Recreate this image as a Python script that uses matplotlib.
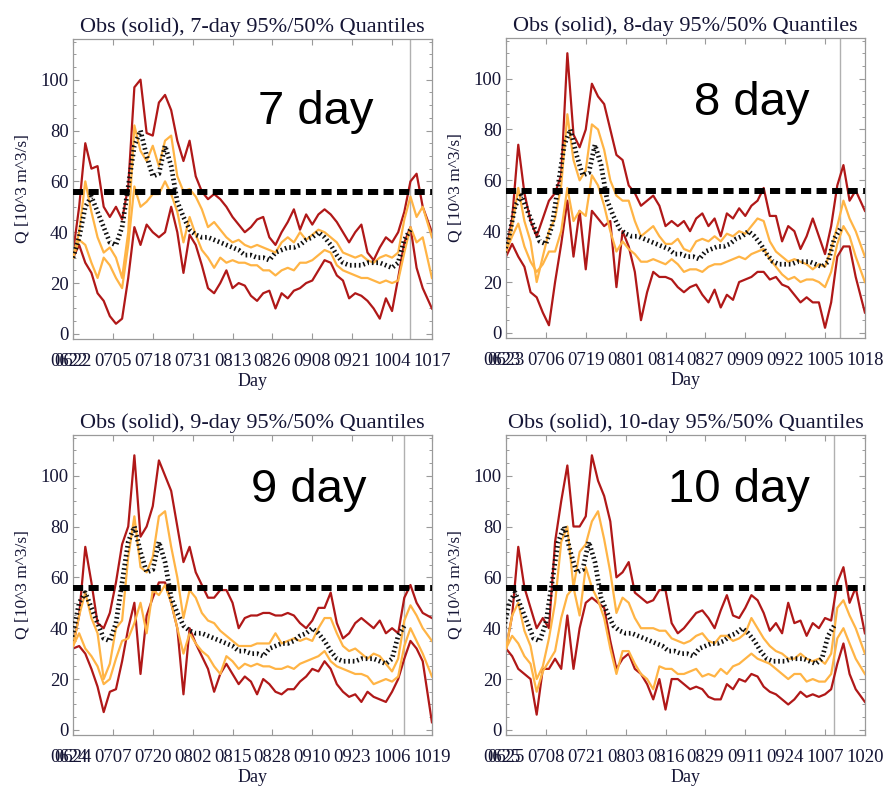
import numpy as np
import matplotlib
matplotlib.use("Agg")
import matplotlib.pyplot as plt
import matplotlib.transforms as mtransforms
from datetime import date, timedelta

# forecast quantiles sampled every 2 days (last sample sits on the right edge)
days = np.r_[np.arange(0, 116, 2), 117]

# observed flow, every 2 days counted from 06/22, up to the last obs date (10/10)
obs_days = np.arange(0, 111, 2)
obs = [30, 38, 50, 54, 48, 42, 36, 35, 42, 58,
       74, 80, 70, 62, 63, 74, 66, 52, 46, 41,
       39, 38, 38, 37, 36, 35, 34, 33, 31, 31,
       30, 30, 29, 32, 33, 34, 34, 35, 37, 38,
       40, 38, 35, 31, 28, 27, 27, 27, 28, 28,
       28, 27, 26, 28, 37, 41]
last_obs_day = 110
flood_level = 56

# 7-day lead
up95_7 = [32, 50, 75, 65, 66, 50, 46, 50, 45, 58,
          97, 100, 79, 78, 91, 94, 88, 76, 68, 76,
          62, 56, 53, 55, 53, 50, 46, 43, 40, 42,
          45, 46, 38, 35, 40, 44, 49, 41, 47, 43,
          47, 49, 47, 44, 40, 36, 40, 43, 32, 29,
          34, 38, 36, 40, 48, 60, 63, 50, 40]
lo95_7 = [30, 35, 28, 24, 16, 13, 7, 4, 6, 22,
          42, 35, 43, 40, 38, 40, 50, 40, 24, 39,
          35, 27, 18, 16, 20, 25, 18, 20, 19, 15,
          13, 16, 17, 10, 16, 14, 17, 18, 20, 21,
          25, 29, 28, 23, 21, 14, 16, 15, 13, 10,
          6, 14, 9, 22, 36, 42, 26, 18, 10]
up50_7 = [30, 40, 60, 48, 38, 32, 34, 30, 22, 40,
          82, 72, 68, 74, 66, 76, 78, 62, 56, 57,
          54, 49, 42, 44, 41, 38, 36, 37, 35, 34,
          35, 34, 33, 32, 36, 38, 36, 40, 37, 39,
          41, 40, 38, 36, 32, 31, 30, 31, 29, 28,
          30, 31, 30, 32, 45, 54, 46, 50, 38]
lo50_7 = [30, 37, 35, 28, 22, 30, 27, 22, 18, 35,
          58, 50, 52, 55, 55, 60, 55, 48, 36, 46,
          39, 33, 30, 26, 30, 28, 29, 28, 28, 27,
          27, 25, 25, 23, 25, 26, 25, 28, 28, 29,
          31, 33, 32, 27, 25, 24, 23, 22, 22, 21,
          20, 21, 20, 21, 32, 42, 36, 38, 22]

# 8-day lead
up95_8 = [32, 45, 74, 55, 44, 38, 45, 52, 55, 62,
          110, 78, 73, 80, 98, 93, 90, 80, 70, 68,
          58, 55, 50, 52, 54, 50, 42, 44, 42, 44,
          40, 45, 47, 42, 45, 38, 47, 45, 49, 46,
          50, 52, 57, 46, 46, 36, 42, 40, 33, 38,
          45, 38, 31, 42, 58, 66, 52, 56, 48]
lo95_8 = [30, 35, 30, 26, 16, 14, 8, 3, 20, 35,
          52, 30, 48, 25, 48, 45, 42, 44, 18, 40,
          34, 24, 5, 16, 24, 22, 22, 21, 18, 16,
          18, 19, 15, 12, 17, 10, 15, 13, 20, 21,
          22, 24, 24, 21, 22, 19, 18, 15, 12, 14,
          12, 12, 2, 12, 30, 34, 34, 22, 8]
up50_8 = [32, 42, 57, 44, 36, 20, 30, 40, 45, 58,
          86, 68, 60, 64, 82, 80, 72, 60, 54, 52,
          52, 44, 38, 40, 42, 38, 35, 35, 37, 33,
          32, 36, 37, 36, 38, 36, 39, 38, 40, 39,
          42, 45, 44, 36, 32, 30, 28, 29, 28, 27,
          25, 27, 26, 33, 42, 52, 45, 40, 30]
lo50_8 = [32, 38, 43, 34, 28, 24, 27, 32, 32, 40,
          57, 44, 48, 46, 62, 58, 50, 40, 32, 36,
          33, 31, 28, 28, 29, 28, 27, 29, 27, 24,
          25, 25, 24, 26, 27, 27, 28, 29, 30, 29,
          31, 32, 33, 29, 26, 23, 21, 22, 20, 21,
          21, 20, 18, 24, 35, 42, 38, 30, 20]

# 9-day lead
up95_9 = [33, 45, 72, 58, 42, 40, 46, 58, 73, 80,
          108, 76, 80, 88, 106, 100, 94, 80, 66, 72,
          62, 57, 52, 52, 55, 55, 50, 40, 44, 45,
          45, 46, 46, 45, 45, 46, 45, 42, 40, 43,
          48, 48, 54, 42, 36, 38, 42, 44, 42, 40,
          43, 38, 40, 38, 52, 57, 50, 46, 44]
lo95_9 = [32, 33, 30, 24, 17, 7, 15, 16, 27, 40,
          50, 22, 45, 52, 58, 58, 50, 40, 14, 40,
          34, 29, 24, 15, 22, 26, 22, 18, 21, 19,
          14, 20, 18, 15, 14, 16, 16, 19, 21, 24,
          23, 27, 24, 18, 15, 13, 14, 11, 15, 13,
          12, 11, 15, 20, 28, 35, 32, 27, 3]
up50_9 = [33, 45, 54, 44, 38, 20, 26, 40, 43, 68,
          84, 64, 62, 68, 84, 86, 72, 60, 44, 55,
          52, 46, 43, 42, 39, 37, 35, 33, 33, 33,
          34, 34, 34, 38, 34, 35, 36, 35, 36, 35,
          40, 44, 44, 38, 33, 31, 32, 30, 28, 30,
          29, 26, 23, 28, 43, 49, 45, 40, 35]
lo50_9 = [33, 38, 32, 29, 25, 18, 20, 28, 35, 36,
          42, 50, 38, 55, 53, 57, 50, 40, 30, 38,
          34, 31, 29, 25, 22, 29, 27, 24, 26, 25,
          26, 25, 25, 24, 24, 25, 24, 26, 27, 28,
          29, 31, 27, 25, 24, 23, 22, 22, 21, 18,
          19, 20, 19, 21, 33, 40, 35, 30, 21]

# 10-day lead
up95_10 = [32, 45, 72, 56, 48, 40, 44, 40, 74, 90,
           104, 80, 80, 84, 108, 98, 92, 82, 60, 62,
           66, 54, 52, 50, 51, 55, 55, 42, 38, 40,
           43, 46, 47, 44, 40, 47, 53, 45, 44, 48,
           53, 51, 46, 39, 42, 38, 50, 42, 43, 37,
           42, 40, 44, 43, 58, 64, 50, 56, 38]
lo95_10 = [32, 29, 24, 22, 20, 6, 24, 24, 28, 24,
           45, 24, 40, 50, 52, 50, 48, 35, 24, 28,
           30, 24, 22, 18, 12, 20, 8, 20, 20, 18,
           16, 17, 16, 13, 12, 12, 18, 16, 20, 19,
           22, 21, 17, 15, 14, 12, 10, 12, 15, 13,
           14, 13, 14, 16, 26, 34, 22, 16, 11]
up50_10 = [32, 45, 50, 39, 33, 20, 25, 36, 50, 74,
           80, 56, 70, 73, 82, 86, 75, 62, 46, 52,
           50, 44, 40, 40, 40, 39, 39, 36, 35, 34,
           35, 37, 38, 35, 34, 37, 37, 35, 36, 38,
           44, 40, 36, 33, 31, 30, 28, 28, 30, 28,
           27, 28, 26, 30, 48, 51, 45, 40, 30]
lo50_10 = [32, 37, 34, 29, 26, 15, 23, 27, 31, 44,
           53, 56, 45, 64, 56, 51, 44, 32, 22, 31,
           31, 26, 22, 20, 16, 25, 24, 24, 22, 22,
           23, 24, 21, 22, 21, 24, 22, 25, 26, 28,
           30, 28, 27, 26, 24, 22, 20, 22, 22, 19,
           20, 19, 19, 22, 36, 40, 34, 28, 22]

leads = [7, 8, 9, 10]
quantiles = {7: (up95_7, lo95_7, up50_7, lo50_7),
             8: (up95_8, lo95_8, up50_8, lo50_8),
             9: (up95_9, lo95_9, up50_9, lo50_9),
             10: (up95_10, lo95_10, up50_10, lo50_10)}
first_day = date(2010, 6, 22)

RED = "#b01818"
ORANGE = "#ffb445"
GRAY = "#9a9a9a"
INK = "#151535"
serif = "Liberation Serif"
XPAD = 10

fig = plt.figure(figsize=(8.84, 7.86), dpi=100)
axes_pos = {7: [0.0826, 0.5687, 0.406, 0.3817],
            8: [0.5724, 0.5700, 0.406, 0.3817],
            9: [0.0826, 0.0649, 0.406, 0.3817],
            10: [0.5724, 0.0649, 0.406, 0.3817]}
label_pos = {7: (0.677, 0.757), 8: (0.685, 0.783), 9: (0.656, 0.817), 10: (0.649, 0.817)}

for lead in leads:
    offset = lead - 7
    start = first_day + timedelta(days=offset)
    up95, lo95, up50, lo50 = quantiles[lead]

    ax = fig.add_axes(axes_pos[lead])
    ax.plot(days, up95, color=RED, lw=1.6, zorder=2)
    ax.plot(days, lo95, color=RED, lw=1.6, zorder=2)
    ax.plot(days, up50, color=ORANGE, lw=1.6, zorder=3)
    ax.plot(days, lo50, color=ORANGE, lw=1.6, zorder=3)
    ax.axvline(last_obs_day - offset, color="#b0b0b0", lw=1.0, zorder=1)
    # thick line with very short butt dashes -> little hatch marks along the obs curve
    ax.plot(obs_days - offset, obs, color="#111111", lw=3.4, ls=(0, (0.35, 0.6)),
            dash_capstyle="butt", zorder=4)
    ax.axhline(flood_level, color="black", lw=4.3, ls=(0, (1.7, 0.9)), zorder=5)

    ax.set_xlim(0, 117)
    ax.set_ylim(-2, 116)

    xt = np.arange(0, 118, 13)
    ax.set_xticks(xt)
    ax.set_xticklabels([(start + timedelta(days=int(d))).strftime("%m%d") for d in xt])
    ax.set_yticks(np.arange(0, 101, 20))
    ax.set_yticks(np.arange(0, 116, 5), minor=True)
    ax.tick_params(axis="both", which="both", direction="in", color=GRAY,
                   top=True, right=True, labelsize=13.5, labelcolor=INK)
    ax.tick_params(axis="both", which="major", length=4, width=0.8)
    ax.tick_params(axis="y", which="minor", length=2, width=0.7)
    ax.tick_params(axis="x", which="major", pad=XPAD)
    ax.tick_params(axis="y", which="major", pad=3)
    for lbl in ax.get_xticklabels() + ax.get_yticklabels():
        lbl.set_family(serif)
    # the start label is printed twice, slightly shifted
    tr = ax.get_xaxis_text1_transform(XPAD)[0] + \
        mtransforms.ScaledTranslation(-4 / 100, 0, fig.dpi_scale_trans)
    ax.text(0, 0, start.strftime("%m%d"), transform=tr, ha="center", va="top",
            fontsize=13.5, family=serif, color=INK)

    for sp in ax.spines.values():
        sp.set_color(GRAY)
        sp.set_linewidth(0.9)

    ax.set_title(f"Obs (solid), {lead}-day 95%/50% Quantiles", fontsize=16,
                 family=serif, color=INK, pad=5)
    ax.set_xlabel("Day", fontsize=13, family=serif, color=INK, labelpad=2)
    ax.set_ylabel("Q [10^3 m^3/s]", fontsize=12.5, family=serif, color=INK)
    ax.yaxis.set_label_coords(-0.118, 0.5)

    lx, ly = label_pos[lead]
    ax.text(lx, ly, f"{lead} day", transform=ax.transAxes, ha="center", va="center",
            fontsize=34, family="Liberation Sans", color="black", zorder=6)

fig.savefig("out.png", dpi=100)
